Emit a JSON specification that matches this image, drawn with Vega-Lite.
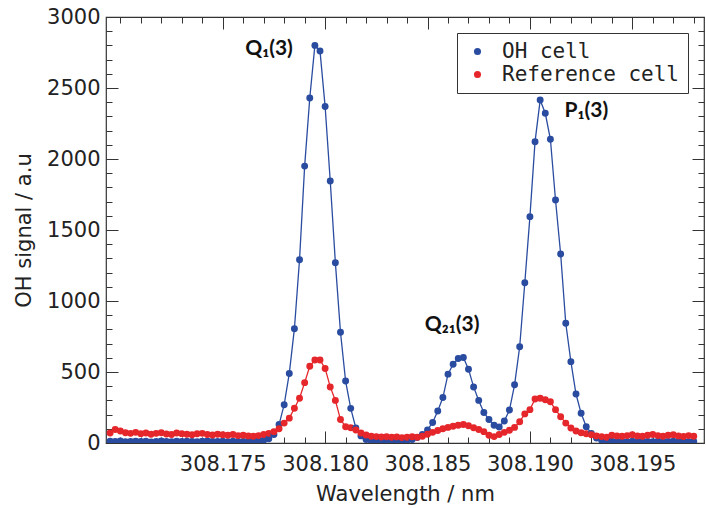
{
  "$schema": "https://vega.github.io/schema/vega-lite/v6.json",
  "width": 598,
  "height": 426,
  "autosize": {"type": "none"},
  "padding": {"left": 106, "top": 17, "right": 2, "bottom": 65},
  "background": "white",
  "config": {
    "view": {"stroke": "#333", "strokeWidth": 1.2},
    "font": "DejaVu Sans",
    "axis": {"domain": false, "grid": false, "tickColor": "#333", "tickWidth": 1, "labelColor": "#222", "titleColor": "#222", "labelFont": "DejaVu Sans", "titleFont": "DejaVu Sans", "labelFontSize": 21, "titleFontSize": 21, "titleFontWeight": "normal", "labelFlush": false, "labelOverlap": false}
  },
  "datasets": {
    "spec": [
      {"w": 308.16950, "oh": 12, "ref": 70},
      {"w": 308.16975, "oh": 10, "ref": 95},
      {"w": 308.17000, "oh": 14, "ref": 85},
      {"w": 308.17025, "oh": 9, "ref": 72},
      {"w": 308.17050, "oh": 11, "ref": 68},
      {"w": 308.17075, "oh": 13, "ref": 75},
      {"w": 308.17100, "oh": 10, "ref": 66},
      {"w": 308.17125, "oh": 12, "ref": 70},
      {"w": 308.17150, "oh": 8, "ref": 62},
      {"w": 308.17175, "oh": 11, "ref": 68},
      {"w": 308.17200, "oh": 14, "ref": 72},
      {"w": 308.17225, "oh": 10, "ref": 64},
      {"w": 308.17250, "oh": 9, "ref": 60},
      {"w": 308.17275, "oh": 12, "ref": 70},
      {"w": 308.17300, "oh": 11, "ref": 66},
      {"w": 308.17325, "oh": 13, "ref": 62},
      {"w": 308.17350, "oh": 10, "ref": 58},
      {"w": 308.17375, "oh": 9, "ref": 65},
      {"w": 308.17400, "oh": 12, "ref": 68},
      {"w": 308.17425, "oh": 14, "ref": 60},
      {"w": 308.17450, "oh": 11, "ref": 56},
      {"w": 308.17475, "oh": 10, "ref": 62},
      {"w": 308.17500, "oh": 12, "ref": 58},
      {"w": 308.17525, "oh": 9, "ref": 55},
      {"w": 308.17550, "oh": 13, "ref": 60},
      {"w": 308.17575, "oh": 11, "ref": 52},
      {"w": 308.17600, "oh": 10, "ref": 55},
      {"w": 308.17625, "oh": 14, "ref": 50},
      {"w": 308.17650, "oh": 12, "ref": 48},
      {"w": 308.17675, "oh": 15, "ref": 52},
      {"w": 308.17700, "oh": 20, "ref": 60},
      {"w": 308.17725, "oh": 30, "ref": 68},
      {"w": 308.17750, "oh": 60, "ref": 80},
      {"w": 308.17775, "oh": 130, "ref": 100},
      {"w": 308.17800, "oh": 270, "ref": 140},
      {"w": 308.17825, "oh": 490, "ref": 175},
      {"w": 308.17850, "oh": 805, "ref": 245},
      {"w": 308.17875, "oh": 1290, "ref": 315},
      {"w": 308.17900, "oh": 1950, "ref": 425},
      {"w": 308.17925, "oh": 2430, "ref": 540},
      {"w": 308.17950, "oh": 2800, "ref": 585},
      {"w": 308.17975, "oh": 2760, "ref": 585},
      {"w": 308.18000, "oh": 2370, "ref": 525},
      {"w": 308.18025, "oh": 1845, "ref": 395},
      {"w": 308.18050, "oh": 1270, "ref": 300},
      {"w": 308.18075, "oh": 780, "ref": 165},
      {"w": 308.18100, "oh": 436, "ref": 115},
      {"w": 308.18125, "oh": 244, "ref": 108},
      {"w": 308.18150, "oh": 106, "ref": 92},
      {"w": 308.18175, "oh": 50, "ref": 70},
      {"w": 308.18200, "oh": 25, "ref": 56},
      {"w": 308.18225, "oh": 15, "ref": 48},
      {"w": 308.18250, "oh": 12, "ref": 45},
      {"w": 308.18275, "oh": 10, "ref": 42},
      {"w": 308.18300, "oh": 9, "ref": 44},
      {"w": 308.18325, "oh": 11, "ref": 40},
      {"w": 308.18350, "oh": 13, "ref": 43},
      {"w": 308.18375, "oh": 14, "ref": 38},
      {"w": 308.18400, "oh": 18, "ref": 41},
      {"w": 308.18425, "oh": 25, "ref": 44},
      {"w": 308.18450, "oh": 38, "ref": 40},
      {"w": 308.18475, "oh": 60, "ref": 48},
      {"w": 308.18500, "oh": 92, "ref": 62},
      {"w": 308.18525, "oh": 145, "ref": 75},
      {"w": 308.18550, "oh": 225, "ref": 88},
      {"w": 308.18575, "oh": 320, "ref": 100},
      {"w": 308.18600, "oh": 485, "ref": 110},
      {"w": 308.18625, "oh": 555, "ref": 118},
      {"w": 308.18650, "oh": 595, "ref": 125},
      {"w": 308.18675, "oh": 602, "ref": 130},
      {"w": 308.18700, "oh": 520, "ref": 122},
      {"w": 308.18725, "oh": 395, "ref": 108},
      {"w": 308.18750, "oh": 300, "ref": 95},
      {"w": 308.18775, "oh": 215, "ref": 80},
      {"w": 308.18800, "oh": 165, "ref": 55},
      {"w": 308.18825, "oh": 125, "ref": 45},
      {"w": 308.18850, "oh": 113, "ref": 60},
      {"w": 308.18875, "oh": 155, "ref": 75},
      {"w": 308.18900, "oh": 232, "ref": 90},
      {"w": 308.18925, "oh": 410, "ref": 110},
      {"w": 308.18950, "oh": 678, "ref": 150},
      {"w": 308.18975, "oh": 1129, "ref": 205},
      {"w": 308.19000, "oh": 1594, "ref": 235},
      {"w": 308.19025, "oh": 2122, "ref": 310},
      {"w": 308.19050, "oh": 2415, "ref": 315},
      {"w": 308.19075, "oh": 2322, "ref": 305},
      {"w": 308.19100, "oh": 2139, "ref": 290},
      {"w": 308.19125, "oh": 1711, "ref": 235},
      {"w": 308.19150, "oh": 1331, "ref": 185},
      {"w": 308.19175, "oh": 843, "ref": 140},
      {"w": 308.19200, "oh": 573, "ref": 105},
      {"w": 308.19225, "oh": 345, "ref": 85},
      {"w": 308.19250, "oh": 209, "ref": 72},
      {"w": 308.19275, "oh": 115, "ref": 65},
      {"w": 308.19300, "oh": 68, "ref": 58},
      {"w": 308.19325, "oh": 35, "ref": 50},
      {"w": 308.19350, "oh": 20, "ref": 45},
      {"w": 308.19375, "oh": 14, "ref": 40},
      {"w": 308.19400, "oh": 12, "ref": 55},
      {"w": 308.19425, "oh": 10, "ref": 50},
      {"w": 308.19450, "oh": 11, "ref": 48},
      {"w": 308.19475, "oh": 9, "ref": 52},
      {"w": 308.19500, "oh": 12, "ref": 58},
      {"w": 308.19525, "oh": 10, "ref": 50},
      {"w": 308.19550, "oh": 13, "ref": 47},
      {"w": 308.19575, "oh": 11, "ref": 55},
      {"w": 308.19600, "oh": 9, "ref": 60},
      {"w": 308.19625, "oh": 12, "ref": 52},
      {"w": 308.19650, "oh": 10, "ref": 48},
      {"w": 308.19675, "oh": 11, "ref": 54},
      {"w": 308.19700, "oh": 13, "ref": 58},
      {"w": 308.19725, "oh": 10, "ref": 50},
      {"w": 308.19750, "oh": 12, "ref": 46},
      {"w": 308.19775, "oh": 9, "ref": 52},
      {"w": 308.19800, "oh": 11, "ref": 48}
    ],
    "notes": [
      {"w": 308.17726, "y": 2775, "label": "Q₁(3)"},
      {"w": 308.18620, "y": 830, "label": "Q₂₁(3)"},
      {"w": 308.19276, "y": 2340, "label": "P₁(3)"}
    ]
  },
  "resolve": {"axis": {"x": "independent", "y": "independent"}},
  "layer": [
    {
      "data": {"name": "spec"},
      "mark": {"type": "line", "strokeWidth": 1.3, "clip": true, "color": "#2a4ca0"},
      "encoding": {
        "x": {"field": "w", "type": "quantitative",
          "scale": {"domain": [308.1693, 308.1985], "nice": false, "zero": false},
          "axis": {"orient": "bottom", "values": [308.175, 308.18, 308.185, 308.19, 308.195], "format": ".3f", "tickSize": -12, "labelPadding": 22, "title": "Wavelength / nm", "titlePadding": 9}},
        "y": {"field": "oh", "type": "quantitative",
          "scale": {"domain": [0, 3000], "nice": false},
          "axis": {"orient": "left", "values": [0, 500, 1000, 1500, 2000, 2500, 3000], "format": "d", "tickSize": -12, "labelPadding": 18, "title": "OH signal / a.u", "titlePadding": 12}}
      }
    },
    {
      "data": {"name": "spec"},
      "mark": {"type": "line", "strokeWidth": 1.3, "clip": true, "color": "#e5262a"},
      "encoding": {
        "x": {"field": "w", "type": "quantitative", "scale": {"domain": [308.1693, 308.1985], "nice": false, "zero": false}, "axis": null},
        "y": {"field": "ref", "type": "quantitative", "scale": {"domain": [0, 3000], "nice": false}, "axis": null}
      }
    },
    {
      "data": {"name": "spec"},
      "transform": [{"fold": ["oh", "ref"], "as": ["series", "v"]}],
      "mark": {"type": "point", "filled": true, "size": 48, "opacity": 1, "clip": true},
      "encoding": {
        "x": {"field": "w", "type": "quantitative",
          "scale": {"domain": [308.1693, 308.1985], "nice": false, "zero": false},
          "axis": {"orient": "bottom", "values": [308.170, 308.171, 308.172, 308.173, 308.174, 308.175, 308.176, 308.177, 308.178, 308.179, 308.180, 308.181, 308.182, 308.183, 308.184, 308.185, 308.186, 308.187, 308.188, 308.189, 308.190, 308.191, 308.192, 308.193, 308.194, 308.195, 308.196, 308.197, 308.198], "tickSize": -6, "labels": false, "title": null}},
        "y": {"field": "v", "type": "quantitative",
          "scale": {"domain": [0, 3000], "nice": false},
          "axis": {"orient": "left", "values": [0, 100, 200, 300, 400, 500, 600, 700, 800, 900, 1000, 1100, 1200, 1300, 1400, 1500, 1600, 1700, 1800, 1900, 2000, 2100, 2200, 2300, 2400, 2500, 2600, 2700, 2800, 2900, 3000], "tickSize": -6, "labels": false, "title": null}},
        "color": {"field": "series", "type": "nominal",
          "scale": {"domain": ["oh", "ref"], "range": ["#2a4ca0", "#e5262a"]},
          "legend": {"orient": "top-right", "offset": 16, "title": null, "strokeColor": "#333", "fillColor": "white", "padding": 8, "symbolType": "circle", "symbolSize": 50, "symbolOffset": 2, "labelOffset": 14, "labelFontSize": 21, "labelLimit": 400, "labelFont": "DejaVu Sans Mono", "labelColor": "#222", "rowPadding": 1, "labelExpr": "datum.label == 'oh' ? 'OH cell' : 'Reference cell'"}}
      }
    },
    {
      "data": {"name": "notes"},
      "mark": {"type": "text", "font": "Lato", "fontWeight": "bold", "fontSize": 21, "align": "center", "baseline": "middle", "color": "#111"},
      "encoding": {
        "x": {"field": "w", "type": "quantitative",
          "scale": {"domain": [308.1693, 308.1985], "nice": false, "zero": false},
          "axis": {"orient": "top", "values": [308.175, 308.18, 308.185, 308.19, 308.195], "tickSize": -12, "labels": false, "title": null}},
        "y": {"field": "y", "type": "quantitative",
          "scale": {"domain": [0, 3000], "nice": false},
          "axis": {"orient": "right", "values": [0, 500, 1000, 1500, 2000, 2500, 3000], "tickSize": -12, "labels": false, "title": null}},
        "text": {"field": "label"}
      }
    },
    {
      "data": {"name": "notes"},
      "mark": {"type": "text", "opacity": 0},
      "encoding": {
        "x": {"field": "w", "type": "quantitative",
          "scale": {"domain": [308.1693, 308.1985], "nice": false, "zero": false},
          "axis": {"orient": "top", "values": [308.170, 308.171, 308.172, 308.173, 308.174, 308.175, 308.176, 308.177, 308.178, 308.179, 308.180, 308.181, 308.182, 308.183, 308.184, 308.185, 308.186, 308.187, 308.188, 308.189, 308.190, 308.191, 308.192, 308.193, 308.194, 308.195, 308.196, 308.197, 308.198], "tickSize": -6, "labels": false, "title": null}},
        "y": {"field": "y", "type": "quantitative",
          "scale": {"domain": [0, 3000], "nice": false},
          "axis": {"orient": "right", "values": [0, 100, 200, 300, 400, 500, 600, 700, 800, 900, 1000, 1100, 1200, 1300, 1400, 1500, 1600, 1700, 1800, 1900, 2000, 2100, 2200, 2300, 2400, 2500, 2600, 2700, 2800, 2900, 3000], "tickSize": -6, "labels": false, "title": null}},
        "text": {"field": "label"}
      }
    }
  ]
}
